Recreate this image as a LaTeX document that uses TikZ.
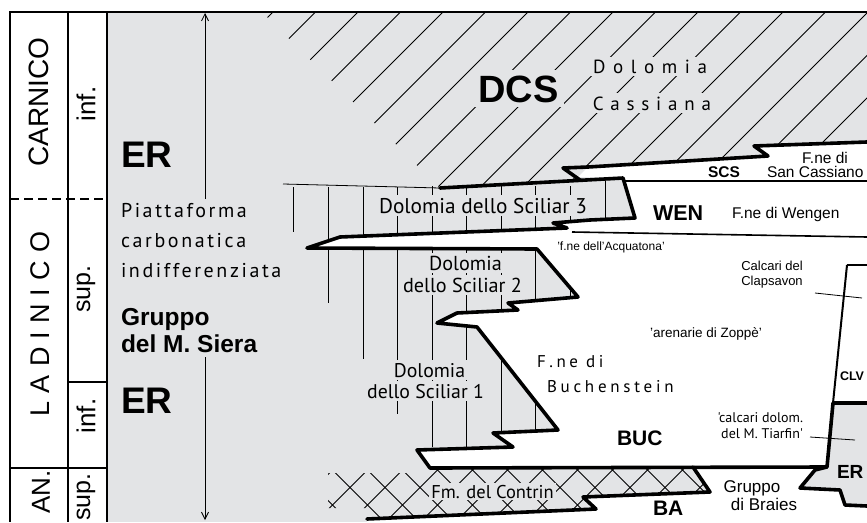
\documentclass[tikz,border=0pt]{standalone}
\usepackage{fontspec}
\setmainfont{Liberation Sans}
\newfontfamily\myr{PT Sans}
\usetikzlibrary{arrows.meta}
\definecolor{bg}{HTML}{E3E4E6}
\newcommand\fsz[1]{\fontsize{#1}{#1}\selectfont}
\newcommand\hb[1]{\fontsize{#1}{#1}\selectfont\bfseries}
\newcommand\mys[1]{\myr\fontsize{#1}{#1}\selectfont}
\newcommand\myls[2]{\myr\fontsize{#1}{#1}\selectfont\addfontfeature{LetterSpace=#2}}
\begin{document}
\begin{tikzpicture}[x=1pt,y=-1pt,
  thk/.style={line width=3.6pt,line join=round,line cap=round},
  hat/.style={line width=0.8pt},
  mid/.style={line width=1.6pt},
  lbl/.style={inner sep=0pt,outer sep=0pt},
  glbl/.style={inner sep=3pt,outer sep=0pt,fill=bg},
  arr/.style={line width=0.8pt,-{Straight Barb[length=7pt,width=7pt]}},
  colline/.style={line width=1.5pt}]
\useasboundingbox (0,0) rectangle (867,522);
\fill[white] (0,0) rectangle (867,522);
\fill[bg] (107,12) rectangle (867,522);

% DCS hatching
\begin{scope}
\clip (263,13) -- (867,13) -- (867,142) -- (754,146) -- (768,156) -- (588,167) -- (563,168) -- (580,180) -- (440,188) -- cycle;
\foreach \k in {0,...,18}{\pgfmathsetmacro\dd{285+42.5*\k}\draw[hat] (\dd-200,200) -- (\dd,0);}
\end{scope}

% Sciliar vertical lines
\foreach \x/\ya/\yb in {293/187/232, 328/187/303, 363/187/359, 397/187/414, 432/186/447, 466/186/448, 501/186/437, 535/186/432, 570/186/297, 605/181/222}
  \draw[hat] (\x,\ya) -- (\x,\yb);

% white basins
\fill[white] (578,177) -- (588,167) -- (768,156) -- (754,146) -- (867,142) -- (867,522) -- (367,522) -- (367,519) -- (596,509) -- (583,497) -- (710,492) -- (693,467) -- (430,468) -- (417,450) -- (513,447) -- (493,433) -- (558,430) -- (477,327) -- (437,323) -- (457,313) -- (518,310) -- (508,303) -- (578,297) -- (537,249) -- (307,248) -- (340,237) -- (567,228) -- (553,223) -- (590,220) -- (635,218) -- (623,178) -- cycle;
% ER box (right)
\fill[bg] (833,403) -- (867,403) -- (867,506) -- (845,505) -- (840,490) -- (800,488) -- (815,470) -- (827,467) -- cycle;

% Contrin cross hatching
\begin{scope}
\clip (328,473) -- (425,473) -- (430,468) -- (693,467) -- (710,492) -- (583,497) -- (596,509) -- (367,519) -- (367,508) -- (328,508) -- cycle;
\foreach \c in {-247.5,-212.5,...,207.5}{\draw[hat] (300,300+\c) -- (730,730+\c);}
\foreach \d in {767.5,802.5,...,1257.5}{\draw[hat] (300,\d-300) -- (730,\d-730);}
\end{scope}

% thin boundaries
\draw[hat] (283,184) -- (440,188);
\draw[mid] (623,181) -- (867,181);
\draw[mid] (572,232) -- (867,237);
\draw[line width=2.8pt] (867,265) -- (847,265);
\draw[line width=2pt] (847,265) -- (833,403);
\coordinate (clvA) at (815,293); \coordinate (clvB) at (862,298);
\draw[hat] (clvA) -- (clvB);
\coordinate (tiaA) at (810,437); \coordinate (tiaB) at (855,440);
\draw[hat] (tiaA) -- (tiaB);

% thick boundaries
\draw[thk] (867,142) -- (754,146) -- (768,156) -- (588,167) -- (563,168) -- (580,180);
\draw[thk] (440,188) -- (623,178) -- (635,218) -- (590,220) -- (553,223) -- (567,228) -- (340,237) -- (307,248) -- (537,249) -- (578,297) -- (508,303) -- (518,310) -- (457,313) -- (437,323) -- (477,327) -- (558,430) -- (493,433) -- (513,447) -- (417,450) -- (430,468) -- (827,467) -- (833,403) -- (867,403);
\draw[thk] (827,467) -- (815,470) -- (800,488) -- (840,490) -- (845,505) -- (867,506);
\draw[thk] (367,519) -- (596,509) -- (583,497) -- (710,492) -- (693,467);

% stratigraphic columns
\draw[colline] (10,12) -- (10,522);
\draw[colline] (68,12) -- (68,522);
\draw[line width=2.5pt] (107,12) -- (107,522);
\draw[line width=2.8pt] (9,12) -- (867,12);
\draw[line width=2pt,dash pattern=on 9pt off 5pt] (10,199) -- (107,199);
\draw[colline] (68,382) -- (107,382);
\draw[colline] (10,468) -- (107,468);

\node[lbl,rotate=90,font=\fsz{28}] (carn) at (39,102) {CARNICO};
\node[lbl,rotate=90,font=\fsz{26}] (cinf) at (86,104) {inf.};
\node[lbl,rotate=90,font=\fsz{27}\addfontfeature{LetterSpace=30}] (ladi) at (40,324) {LADINICO};
\node[lbl,rotate=90,font=\fsz{25}] (lsup) at (86,289) {sup.};
\node[lbl,rotate=90,font=\fsz{26}] (linf) at (86,416) {inf.};
\node[lbl,rotate=90,font=\fsz{26}] (anis) at (41,492) {AN.};
\node[lbl,rotate=90,font=\fsz{25}] (asup) at (86,497) {sup.};

% left platform texts
\node[lbl,anchor=base west,font=\hb{37}] (er1) at (121,167) {ER};
\node[lbl,anchor=base west,font=\myls{20}{13}] (pf1) at (121,217) {Piattaforma};
\node[lbl,anchor=base west,font=\myls{20}{13}] (pf2) at (121,247) {carbonatica};
\node[lbl,anchor=base west,font=\myls{20}{13}] (pf3) at (121,277) {indifferenziata};
\node[lbl,anchor=base west,font=\hb{24.5}] (gr1) at (121,325) {Gruppo};
\node[lbl,anchor=base west,font=\hb{24.5}] (gr2) at (121,352) {del M. Siera};
\node[lbl,anchor=base west,font=\hb{37}] (er2) at (121,413) {ER};
\coordinate (atop) at (205,13); \coordinate (astart) at (205,199);
\coordinate (bstart) at (205,357); \coordinate (bend) at (205,520);
\draw[arr] (astart) -- (atop);
\draw[arr] (bstart) -- (bend);

% DCS texts
\node[glbl,anchor=base,font=\hb{38},inner sep=5pt] (dcs) at (518.5,102) {DCS};
\node[glbl,anchor=base,font=\myls{19}{40}] (dc1) at (650,73) {Dolomia};
\node[glbl,anchor=base,font=\myls{19}{36}] (dc2) at (652,110) {Cassiana};
\node[lbl,anchor=base,font=\hb{15.5}] (scs) at (724,177) {SCS};
\node[lbl,anchor=base,font=\fsz{15.5}] (sc1) at (825,163) {F.ne di};
\node[lbl,anchor=base west,font=\fsz{15.5}] (sc2) at (767,177) {San Cassiano};
\node[lbl,anchor=base west,font=\hb{21.5}] (wen) at (653,220) {WEN};
\node[lbl,anchor=base west,font=\fsz{15.5}] (wen2) at (732,218) {F.ne di Wengen};
\node[lbl,anchor=base,font=\fsz{12}] (acq) at (611,250) {'f.ne dell'Acquatona'};

% Sciliar texts
\node[glbl,anchor=base,font=\mys{21.3}] (s3) at (483,213) {Dolomia dello Sciliar 3};
\node[glbl,anchor=base,font=\mys{20.2}] (s2a) at (465.5,270) {Dolomia};
\node[glbl,anchor=base,font=\mys{20.2}] (s2b) at (462.5,292) {dello Sciliar 2};
\node[glbl,anchor=base,font=\mys{19.8}] (s1a) at (429.5,377) {Dolomia};
\node[glbl,anchor=base,font=\mys{19.8}] (s1b) at (425.5,398) {dello Sciliar 1};

% basin texts
\node[lbl,anchor=base,font=\fsz{13}] (cl1) at (772,270) {Calcari del};
\node[lbl,anchor=base,font=\fsz{13}] (cl2) at (772,285) {Clapsavon};
\node[lbl,anchor=base,font=\fsz{13.5}] (zop) at (706,337) {'arenarie di Zoppè'};
\node[lbl,anchor=base west,font=\myls{17}{21}] (bu1) at (537,367) {F.ne di};
\node[lbl,anchor=base west,font=\myls{17}{22}] (bu2) at (547,392) {Buchenstein};
\node[lbl,anchor=base west,font=\hb{12.5}] (clv) at (840,380) {CLV};
\node[lbl,anchor=base east,font=\mys{14}] (ti1) at (803,422) {'calcari dolom.};
\node[lbl,anchor=base east,font=\mys{14}] (ti2) at (803,438) {del M. Tiarfin'};
\node[lbl,anchor=base west,font=\hb{21}] (buc) at (617,445) {BUC};
\node[lbl,anchor=base west,font=\hb{19}] (er3) at (837,478) {ER};
\node[lbl,anchor=base,font=\fsz{17}] (br1) at (752,492) {Gruppo};
\node[lbl,anchor=base,font=\fsz{17}] (br2) at (764,510) {di Braies};
\node[lbl,anchor=base west,font=\hb{21}] (ba) at (653,515) {BA};
\node[glbl,anchor=base,font=\mys{18.5},inner sep=2pt] (con) at (492.5,498) {Fm. del Contrin};
\end{tikzpicture}
\end{document}
